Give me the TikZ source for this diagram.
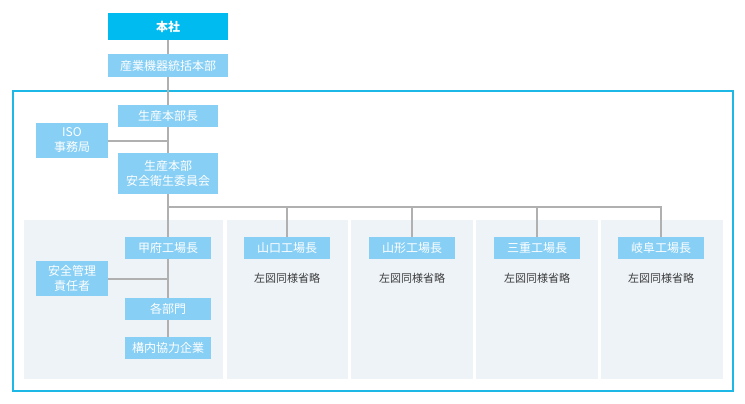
\documentclass[tikz,border=0pt]{standalone}
\usepackage{fontspec}
\setmainfont{Noto Sans CJK JP}
\usepackage{tikz}
\usetikzlibrary{positioning}

\definecolor{headcyan}{RGB}{0,187,239}
\definecolor{boxblue}{RGB}{135,207,245}
\definecolor{framecyan}{RGB}{30,184,230}
\definecolor{panelgray}{RGB}{238,243,248}
\definecolor{linegray}{RGB}{176,176,176}
\definecolor{notegray}{RGB}{60,60,60}

\tikzset{
  orgbox/.style={fill=boxblue,text=white,font=\fontsize{12}{15}\selectfont,
    align=center,inner sep=0pt,minimum width=100pt,minimum height=22pt},
  headbox/.style={orgbox,fill=headcyan,font=\fontsize{12}{15}\selectfont\bfseries,
    minimum width=120pt,minimum height=27pt},
  factory/.style={orgbox,minimum width=86pt},
  sidebox/.style={orgbox,minimum width=72pt,minimum height=35pt},
  note/.style={text=notegray,font=\fontsize{11}{13}\selectfont,inner sep=0pt},
  conn/.style={draw=linegray,line width=2pt}
}

\begin{document}
\begin{tikzpicture}[x=1pt,y=-1pt]
  \useasboundingbox (0,0) rectangle (745,404);
  % outer frame and panels
  \draw[framecyan,line width=1.5pt] (13,91) rectangle (733,391);
  \fill[panelgray] (24,220) rectangle (223,379);
  \foreach \l/\r in {227/348, 351/473, 476/598, 601/723}
    \fill[panelgray] (\l,220) rectangle (\r,379);

  % head office
  \node[headbox] (honsha) at (168,26.5) {本社};
  \node[orgbox,minimum width=120pt,minimum height=23pt] (tokatsu) at (168,65.5) {産業機器統括本部};
  \node[orgbox] (bucho) at (168,116) {生産本部長};
  \node[orgbox,minimum height=41pt] (iinkai) at (168,173.5) {生産本部\\安全衛生委員会};
  \node[sidebox] (iso) at (72,140.5) {ISO\\事務局};

  % plants
  \node[factory] (kofu) at (168,248) {甲府工場長};
  \foreach \name/\x/\txt in {yamaguchi/287/山口工場長, yamagata/412/山形工場長,
      mie/537/三重工場長, gifu/661/岐阜工場長} {
    \node[factory] (\name) at (\x,248) {\txt};
    \node[note] (\name-note) at (\x,278) {左図同様省略};
  }
  \node[sidebox] (anzen) at (72,278.5) {安全管理\\責任者};
  \node[factory] (kakubu) at (168,309) {各部門};
  \node[factory] (kounai) at (168,348) {構内協力企業};

  \coordinate (bar) at (168,207);

  % connectors
  \draw[conn] (honsha) -- (tokatsu);
  \draw[conn] (tokatsu) -- (bucho);
  \draw[conn] (bucho) -- (iinkai);
  \draw[conn] (iso.east) -- (iso.east -| bucho.south);
  \draw[conn] (iinkai) -- (kofu);
  \draw[conn] (bar) -| (gifu);
  \foreach \name in {yamaguchi, yamagata, mie}
    \draw[conn] (bar -| \name) -- (\name);
  \draw[conn] (kofu) -- (kakubu);
  \draw[conn] (kakubu) -- (kounai);
  \draw[conn] (anzen.east) -- (anzen.east -| kofu.south);
\end{tikzpicture}
\end{document}
